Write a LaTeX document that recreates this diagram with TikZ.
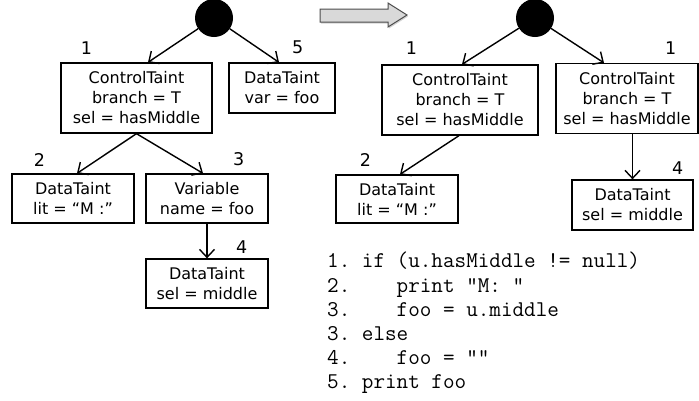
\documentclass[tikz,border=0pt]{standalone}
\usepackage{fontspec}
\setmainfont{DejaVu Sans}
\usepackage{tikz}
\usetikzlibrary{arrows.meta, positioning, shadows}

\begin{document}
\begin{tikzpicture} [x = 1pt, y = -1pt, on grid, font=\fontsize{16}{20}\selectfont,
		taint/.style = {draw, line width = 1.3pt, align = center, inner sep = 0pt},
		root/.style = {circle, fill = black, minimum size = 38pt, inner sep = 0pt},
		num/.style = {inner sep = 0pt, font = \fontsize{17.5}{20}\selectfont}]
			\useasboundingbox (0,0) rectangle (699,400);
			% Left tree : Every node is measured based to its root
			\node (rootL) [root] at (214,18) {};

			\node (ct1L) [taint, minimum width = 151pt, minimum height = 70pt, below left = 80pt and 77.5pt of rootL]
			{ControlTaint\\ branch = T\\ sel = hasMiddle};

			\node (dt5L) [taint, minimum width = 106pt, minimum height = 50pt, below right = 70pt and 68pt of rootL]
			{DataTaint\\ var = foo};

			\node (dt2L) [taint, minimum width = 122pt, minimum height = 49pt, below left = 100.5pt and 63.5pt of ct1L]
			{DataTaint\\ lit = “M :”};

			\node (var3L) [taint, minimum width = 122pt, minimum height = 49pt, below right = 100.5pt and 70.5pt of ct1L]
			{Variable\\ name = foo};

			\node (dt4L) [taint, minimum width = 122pt, minimum height = 49pt, below = 85pt of var3L]
			{DataTaint\\ sel = middle};

			% Line numbers
			\node (n1L) [num, above = 8pt of ct1L.north west, xshift = 26pt] {1};
			\node (n5L) [num, above = 8pt of dt5L.north east, xshift = -38pt] {5};
			\node (n2L) [num, above = 7pt of dt2L.north west, xshift = 28pt] {2};
			\node (n3L) [num, above = 7pt of var3L.north east, xshift = -30pt] {3};
			\node (n4L) [num, above = 5pt of dt4L.north east, xshift = -27pt] {4};

			% Step arrow
			\draw [fill = gray!30, draw = gray!60!black, line width = 1pt,
			drop shadow = {shadow xshift = 1pt, shadow yshift = -1.5pt, opacity = .35}]
			(320,9) -- (388,9) -- (388,3) -- (407,15) -- (388,27) -- (388,22) -- (320,22) -- cycle;

			% Right tree
			\node (rootR) [root] at (535,18) {};

			\node (ct1R) [taint, minimum width = 156pt, minimum height = 70pt, below left = 82pt and 75pt of rootR]
			{ControlTaint\\ branch = T\\ sel = hasMiddle};

			\node (ct1bR) [taint, minimum width = 142pt, minimum height = 70pt, below right = 80.5pt and 92pt of rootR]
			{ControlTaint\\ branch = T\\ sel = hasMiddle};

			\node (dt2R) [taint, minimum width = 122pt, minimum height = 48pt, below left = 99pt and 63pt of ct1R]
			{DataTaint\\ lit = “M :”};

			\node (dt4R) [taint, minimum width = 121pt, minimum height = 50pt, below right = 106.5pt and 5.5pt of ct1bR]
			{DataTaint\\ sel = middle};

			\node (n1R) [num, above = 10pt of ct1R.north west, xshift = 30pt] {1};
			\node (n1bR) [num, above = 8pt of ct1bR.north east, xshift = -28pt] {1};
			\node (n2R) [num, above = 8pt of dt2R.north west, xshift = 30pt] {2};
			\node (n4R) [num, above = 5pt of dt4R.north east, xshift = -16pt] {4};

			% Source code
			\node (code) [anchor = north west, inner sep = 0pt, align = left,
			font = \ttfamily\frenchspacing\fontsize{22.5}{24.2}\selectfont] at (327,252)
			{1. if (u.hasMiddle != null)\\
			2.\ \ \ \ print “M: ”\\
			3.\ \ \ \ foo = u.middle\\
			3. else\\
			4.\ \ \ \ foo = “”\\
			5. print foo};

			% Draw Arrows/Connections
			\path [-{Straight Barb[length = 8pt, width = 15pt]}, line width = 1.4pt]
			(rootL) edge ([xshift = 11.5pt]ct1L.north)
			(rootL) edge ([xshift = -3pt]dt5L.north)
			(ct1L.south) edge ([xshift = 4pt]dt2L.north)
			(ct1L.south) edge ([xshift = -4pt]var3L.north)
			(var3L) edge (dt4L)
			(rootR) edge ([xshift = 2pt]ct1R.north)
			(rootR) edge ([xshift = -23pt]ct1bR.north)
			([xshift = -1pt]ct1R.south) edge ([xshift = 3pt]dt2R.north)
			(dt4R.north |- ct1bR.south) edge (dt4R.north);
		\end{tikzpicture}
\end{document}
